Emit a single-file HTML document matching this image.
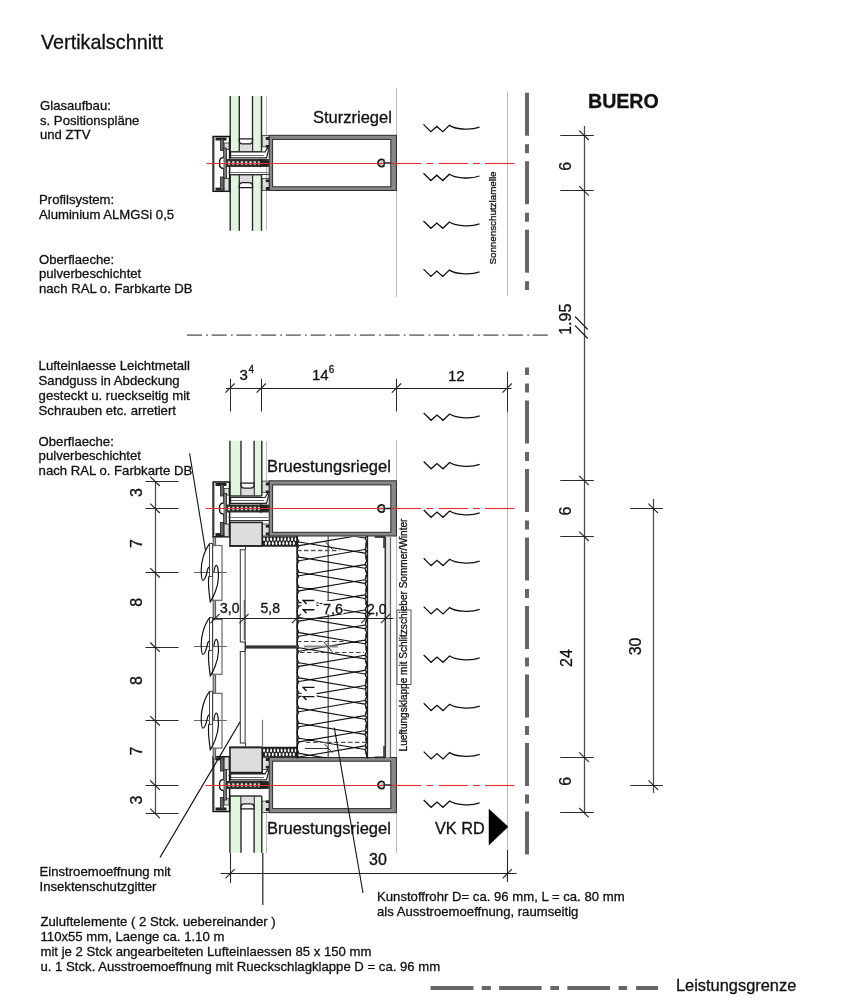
<!DOCTYPE html>
<html><head><meta charset="utf-8"><style>
html,body{margin:0;padding:0;background:#fff;}
svg{display:block;will-change:transform;font-family:"Liberation Sans",sans-serif;}
</style></head><body>
<svg width="852" height="1000" viewBox="0 0 852 1000">
<rect width="852" height="1000" fill="#fff"/>
<text x="41.00" y="49.20" font-size="19.8" text-anchor="start" font-weight="normal" fill="#111" stroke="#111" stroke-width="0.3">Vertikalschnitt</text>
<text x="40.00" y="109.80" font-size="13.15" text-anchor="start" font-weight="normal" fill="#111" stroke="#111" stroke-width="0.3">Glasaufbau:</text>
<text x="40.00" y="124.50" font-size="13.15" text-anchor="start" font-weight="normal" fill="#111" stroke="#111" stroke-width="0.3">s. Positionspläne</text>
<text x="40.00" y="139.20" font-size="13.15" text-anchor="start" font-weight="normal" fill="#111" stroke="#111" stroke-width="0.3">und ZTV</text>
<text x="39.00" y="204.40" font-size="13.15" text-anchor="start" font-weight="normal" fill="#111" stroke="#111" stroke-width="0.3">Profilsystem:</text>
<text x="39.00" y="218.50" font-size="13.15" text-anchor="start" font-weight="normal" fill="#111" stroke="#111" stroke-width="0.3">Aluminium ALMGSi 0,5</text>
<text x="39.00" y="263.80" font-size="13.15" text-anchor="start" font-weight="normal" fill="#111" stroke="#111" stroke-width="0.3">Oberflaeche:</text>
<text x="39.00" y="278.30" font-size="13.15" text-anchor="start" font-weight="normal" fill="#111" stroke="#111" stroke-width="0.3">pulverbeschichtet</text>
<text x="39.00" y="292.80" font-size="13.15" text-anchor="start" font-weight="normal" fill="#111" stroke="#111" stroke-width="0.3">nach RAL o. Farbkarte DB</text>
<text x="38.60" y="370.00" font-size="13.15" text-anchor="start" font-weight="normal" fill="#111" stroke="#111" stroke-width="0.3">Lufteinlaesse Leichtmetall</text>
<text x="38.60" y="384.87" font-size="13.15" text-anchor="start" font-weight="normal" fill="#111" stroke="#111" stroke-width="0.3">Sandguss in Abdeckung</text>
<text x="38.60" y="399.74" font-size="13.15" text-anchor="start" font-weight="normal" fill="#111" stroke="#111" stroke-width="0.3">gesteckt u. rueckseitig mit</text>
<text x="38.60" y="414.61" font-size="13.15" text-anchor="start" font-weight="normal" fill="#111" stroke="#111" stroke-width="0.3">Schrauben etc. arretiert</text>
<text x="38.60" y="445.50" font-size="13.15" text-anchor="start" font-weight="normal" fill="#111" stroke="#111" stroke-width="0.3">Oberflaeche:</text>
<text x="38.60" y="460.10" font-size="13.15" text-anchor="start" font-weight="normal" fill="#111" stroke="#111" stroke-width="0.3">pulverbeschichtet</text>
<text x="38.60" y="474.70" font-size="13.15" text-anchor="start" font-weight="normal" fill="#111" stroke="#111" stroke-width="0.3">nach RAL o. Farbkarte DB</text>
<text x="39.50" y="876.20" font-size="13.15" text-anchor="start" font-weight="normal" fill="#111" stroke="#111" stroke-width="0.3">Einstroemoeffnung mit</text>
<text x="39.50" y="891.10" font-size="13.15" text-anchor="start" font-weight="normal" fill="#111" stroke="#111" stroke-width="0.3">Insektenschutzgitter</text>
<text x="40.50" y="925.80" font-size="13.15" text-anchor="start" font-weight="normal" fill="#111" stroke="#111" stroke-width="0.3">Zuluftelemente ( 2 Stck. uebereinander )</text>
<text x="40.50" y="940.70" font-size="13.15" text-anchor="start" font-weight="normal" fill="#111" stroke="#111" stroke-width="0.3">110x55 mm, Laenge ca. 1.10 m</text>
<text x="40.50" y="955.60" font-size="13.15" text-anchor="start" font-weight="normal" fill="#111" stroke="#111" stroke-width="0.3">mit je 2 Stck angearbeiteten Lufteinlaessen 85 x 150 mm</text>
<text x="40.50" y="970.50" font-size="13.15" text-anchor="start" font-weight="normal" fill="#111" stroke="#111" stroke-width="0.3">u. 1 Stck. Ausstroemoeffnung mit Rueckschlagklappe D = ca. 96 mm</text>
<text x="377.00" y="901.40" font-size="13.15" text-anchor="start" font-weight="normal" fill="#111" stroke="#111" stroke-width="0.3">Kunstoffrohr D= ca. 96 mm, L = ca. 80 mm</text>
<text x="377.00" y="916.10" font-size="13.15" text-anchor="start" font-weight="normal" fill="#111" stroke="#111" stroke-width="0.3">als Ausstroemoeffnung, raumseitig</text>
<text x="588.00" y="107.80" font-size="19.6" text-anchor="start" font-weight="bold" fill="#111" stroke="#111" stroke-width="0.3">BUERO</text>
<text x="313.00" y="122.90" font-size="16.5" text-anchor="start" font-weight="normal" fill="#111" stroke="#111" stroke-width="0.3">Sturzriegel</text>
<text x="267.00" y="471.50" font-size="16.5" text-anchor="start" font-weight="normal" fill="#111" stroke="#111" stroke-width="0.3">Bruestungsriegel</text>
<text x="267.00" y="833.60" font-size="16.5" text-anchor="start" font-weight="normal" fill="#111" stroke="#111" stroke-width="0.3">Bruestungsriegel</text>
<text x="435.00" y="833.80" font-size="16.3" text-anchor="start" font-weight="normal" fill="#111" stroke="#111" stroke-width="0.3">VK RD</text>
<text x="676.00" y="990.70" font-size="16.4" text-anchor="start" font-weight="normal" fill="#111" stroke="#111" stroke-width="0.3">Leistungsgrenze</text>
<rect x="430.60" y="986.00" width="42.90" height="4.00" fill="#666" stroke="none" stroke-width="1" />
<rect x="481.70" y="986.00" width="9.20" height="4.00" fill="#666" stroke="none" stroke-width="1" />
<rect x="499.10" y="986.00" width="42.50" height="4.00" fill="#666" stroke="none" stroke-width="1" />
<rect x="550.30" y="986.00" width="8.70" height="4.00" fill="#666" stroke="none" stroke-width="1" />
<rect x="567.40" y="986.00" width="42.70" height="4.00" fill="#666" stroke="none" stroke-width="1" />
<rect x="618.60" y="986.00" width="8.50" height="4.00" fill="#666" stroke="none" stroke-width="1" />
<rect x="636.10" y="986.00" width="22.00" height="4.00" fill="#666" stroke="none" stroke-width="1" />
<line x1="266.50" y1="96.00" x2="266.50" y2="230.00" stroke="#bbb" stroke-width="1" />
<line x1="396.50" y1="88.00" x2="396.50" y2="297.00" stroke="#bbb" stroke-width="1" />
<line x1="507.50" y1="91.50" x2="507.50" y2="296.00" stroke="#bbb" stroke-width="1" />
<line x1="266.50" y1="441.00" x2="266.50" y2="481.00" stroke="#bbb" stroke-width="1" />
<line x1="266.50" y1="813.00" x2="266.50" y2="853.00" stroke="#bbb" stroke-width="1" />
<line x1="396.50" y1="440.00" x2="396.50" y2="853.00" stroke="#bbb" stroke-width="1" />
<line x1="507.50" y1="372.00" x2="507.50" y2="850.00" stroke="#bbb" stroke-width="1" />
<rect x="525.00" y="92.70" width="4.00" height="43.00" fill="#666" stroke="none" stroke-width="1" />
<rect x="525.00" y="144.20" width="4.00" height="9.00" fill="#666" stroke="none" stroke-width="1" />
<rect x="525.00" y="161.20" width="4.00" height="43.00" fill="#666" stroke="none" stroke-width="1" />
<rect x="525.00" y="212.70" width="4.00" height="9.00" fill="#666" stroke="none" stroke-width="1" />
<rect x="525.00" y="229.70" width="4.00" height="43.00" fill="#666" stroke="none" stroke-width="1" />
<rect x="525.00" y="281.20" width="4.00" height="8.80" fill="#666" stroke="none" stroke-width="1" />
<rect x="525.00" y="367.50" width="4.00" height="7.50" fill="#666" stroke="none" stroke-width="1" />
<rect x="525.00" y="383.50" width="4.00" height="9.00" fill="#666" stroke="none" stroke-width="1" />
<rect x="525.00" y="400.50" width="4.00" height="43.00" fill="#666" stroke="none" stroke-width="1" />
<rect x="525.00" y="452.00" width="4.00" height="9.00" fill="#666" stroke="none" stroke-width="1" />
<rect x="525.00" y="469.00" width="4.00" height="43.00" fill="#666" stroke="none" stroke-width="1" />
<rect x="525.00" y="520.50" width="4.00" height="9.00" fill="#666" stroke="none" stroke-width="1" />
<rect x="525.00" y="537.50" width="4.00" height="43.00" fill="#666" stroke="none" stroke-width="1" />
<rect x="525.00" y="589.00" width="4.00" height="9.00" fill="#666" stroke="none" stroke-width="1" />
<rect x="525.00" y="606.00" width="4.00" height="43.00" fill="#666" stroke="none" stroke-width="1" />
<rect x="525.00" y="657.50" width="4.00" height="9.00" fill="#666" stroke="none" stroke-width="1" />
<rect x="525.00" y="674.50" width="4.00" height="43.00" fill="#666" stroke="none" stroke-width="1" />
<rect x="525.00" y="726.00" width="4.00" height="9.00" fill="#666" stroke="none" stroke-width="1" />
<rect x="525.00" y="743.00" width="4.00" height="43.00" fill="#666" stroke="none" stroke-width="1" />
<rect x="525.00" y="794.50" width="4.00" height="9.00" fill="#666" stroke="none" stroke-width="1" />
<rect x="525.00" y="811.50" width="4.00" height="43.00" fill="#666" stroke="none" stroke-width="1" />
<rect x="230.20" y="96.00" width="9.10" height="55.80" fill="#e0f6dc" stroke="none" stroke-width="1" />
<rect x="252.50" y="96.00" width="9.00" height="55.80" fill="#e0f6dc" stroke="none" stroke-width="1" />
<line x1="230.20" y1="96.00" x2="230.20" y2="151.80" stroke="#2a2a2a" stroke-width="1.4" />
<line x1="239.30" y1="96.00" x2="239.30" y2="151.80" stroke="#2a2a2a" stroke-width="1.4" />
<line x1="252.50" y1="96.00" x2="252.50" y2="151.80" stroke="#2a2a2a" stroke-width="1.4" />
<line x1="261.50" y1="96.00" x2="261.50" y2="151.80" stroke="#2a2a2a" stroke-width="1.4" />
<rect x="239.90" y="144.40" width="12.00" height="7.40" fill="#ddd" stroke="none" stroke-width="1" />
<path d="M239.3,138.9 L252.5,138.9 L252.5,140.4 Q252.5,143.9 249.0,143.9 L242.8,143.9 Q239.3,143.9 239.3,140.4 Z" stroke="#1a1a1a" stroke-width="1.3" fill="#fff" />
<line x1="230.20" y1="151.80" x2="261.50" y2="151.80" stroke="#333" stroke-width="1.3" />
<rect x="230.20" y="174.80" width="9.10" height="56.00" fill="#e0f6dc" stroke="none" stroke-width="1" />
<rect x="252.50" y="174.80" width="9.00" height="56.00" fill="#e0f6dc" stroke="none" stroke-width="1" />
<line x1="230.20" y1="174.80" x2="230.20" y2="230.80" stroke="#2a2a2a" stroke-width="1.4" />
<line x1="239.30" y1="174.80" x2="239.30" y2="230.80" stroke="#2a2a2a" stroke-width="1.4" />
<line x1="252.50" y1="174.80" x2="252.50" y2="230.80" stroke="#2a2a2a" stroke-width="1.4" />
<line x1="261.50" y1="174.80" x2="261.50" y2="230.80" stroke="#2a2a2a" stroke-width="1.4" />
<rect x="239.90" y="174.80" width="12.00" height="7.40" fill="#ddd" stroke="none" stroke-width="1" />
<path d="M239.3,187.70000000000002 L252.5,187.70000000000002 L252.5,186.20000000000002 Q252.5,182.70000000000002 249.0,182.70000000000002 L242.8,182.70000000000002 Q239.3,182.70000000000002 239.3,186.20000000000002 Z" stroke="#1a1a1a" stroke-width="1.3" fill="#fff" />
<line x1="230.20" y1="174.80" x2="261.50" y2="174.80" stroke="#333" stroke-width="1.3" />
<rect x="269.20" y="135.30" width="127.20" height="55.20" fill="#888" stroke="#2a2a2a" stroke-width="1" />
<rect x="272.60" y="139.40" width="118.20" height="47.40" fill="#fff" stroke="#2a2a2a" stroke-width="1" />
<circle cx="381.6" cy="163" r="2.2" fill="#ccc"/>
<path d="M384.36,160.69 A3.6,3.6 0 1 0 384.36,165.31" stroke="#1a1a1a" stroke-width="1.9" fill="none" />
<path d="M384.36,160.69 L384,163 L384.36,165.31 M384,163 L391,163" stroke="#222" stroke-width="1.5" fill="none" />
<rect x="262.20" y="135.60" width="6.80" height="11.20" fill="#ddd" stroke="#333" stroke-width="0.8" />
<rect x="262.20" y="178.50" width="6.80" height="12.00" fill="#ddd" stroke="#333" stroke-width="0.8" />
<rect x="265.80" y="137.00" width="3.20" height="3.00" fill="#222" stroke="none" stroke-width="1" />
<rect x="265.80" y="145.00" width="3.20" height="2.60" fill="#222" stroke="none" stroke-width="1" />
<rect x="265.80" y="179.50" width="3.20" height="2.60" fill="#222" stroke="none" stroke-width="1" />
<rect x="265.80" y="187.00" width="3.20" height="3.00" fill="#222" stroke="none" stroke-width="1" />
<rect x="213.10" y="136.50" width="16.50" height="54.80" fill="#fff" stroke="#111" stroke-width="1.5" />
<line x1="214.50" y1="138.00" x2="214.50" y2="190.00" stroke="#999" stroke-width="0.8" />
<rect x="215.50" y="137.50" width="11.00" height="3.00" fill="#222" stroke="none" stroke-width="1" />
<rect x="220.40" y="139.00" width="3.00" height="11.50" fill="#666" stroke="#222" stroke-width="0.8" />
<rect x="215.50" y="187.60" width="11.00" height="3.00" fill="#222" stroke="none" stroke-width="1" />
<rect x="220.40" y="177.00" width="3.00" height="13.00" fill="#666" stroke="#222" stroke-width="0.8" />
<rect x="224.20" y="143.00" width="4.80" height="6.60" fill="#ddd" stroke="#333" stroke-width="0.8" />
<rect x="224.20" y="178.50" width="4.80" height="12.40" fill="#ddd" stroke="#333" stroke-width="0.8" />
<rect x="223.60" y="148.00" width="3.00" height="30.20" fill="#777" stroke="#222" stroke-width="0.8" />
<path d="M223.6,157.5 Q219,157.5 219.6,163 Q219,168.5 223.6,168.5" stroke="#111" stroke-width="1.4" fill="#fff" />
<line x1="228.00" y1="172.50" x2="268.00" y2="172.50" stroke="#555" stroke-width="0.8" />
<line x1="230.00" y1="174.50" x2="269.00" y2="174.50" stroke="#333" stroke-width="1.2" />
<rect x="226.60" y="159.20" width="42.00" height="7.60" fill="#2e2e2e" stroke="none" stroke-width="1" />
<ellipse cx="229.00" cy="163.00" rx="1.3" ry="2.1" fill="#d8d8d8"/>
<ellipse cx="233.30" cy="163.00" rx="1.3" ry="2.1" fill="#d8d8d8"/>
<ellipse cx="237.60" cy="163.00" rx="1.3" ry="2.1" fill="#d8d8d8"/>
<ellipse cx="241.90" cy="163.00" rx="1.3" ry="2.1" fill="#d8d8d8"/>
<ellipse cx="246.20" cy="163.00" rx="1.3" ry="2.1" fill="#d8d8d8"/>
<ellipse cx="250.50" cy="163.00" rx="1.3" ry="2.1" fill="#d8d8d8"/>
<ellipse cx="254.80" cy="163.00" rx="1.3" ry="2.1" fill="#d8d8d8"/>
<ellipse cx="259.10" cy="163.00" rx="1.3" ry="2.1" fill="#d8d8d8"/>
<ellipse cx="263.40" cy="163.00" rx="1.3" ry="2.1" fill="#d8d8d8"/>
<path d="M260,159.2 L268.6,161.5 L268.6,164.5 L260,166.8 Z" stroke="#222" stroke-width="0.5" fill="#222" />
<path d="M230.6,152 L265,152 L267.8,147.5 L268.6,150 L266.5,157.8 L230.6,157.8 Z" stroke="#222" stroke-width="1.2" fill="#fff" />
<line x1="231.00" y1="155.50" x2="264.00" y2="155.50" stroke="#444" stroke-width="0.8" />
<rect x="226.60" y="159.20" width="42.00" height="7.60" fill="#2e2e2e" stroke="none" stroke-width="1" />
<ellipse cx="229.00" cy="163.00" rx="1.3" ry="2.1" fill="#d8d8d8"/>
<ellipse cx="233.30" cy="163.00" rx="1.3" ry="2.1" fill="#d8d8d8"/>
<ellipse cx="237.60" cy="163.00" rx="1.3" ry="2.1" fill="#d8d8d8"/>
<ellipse cx="241.90" cy="163.00" rx="1.3" ry="2.1" fill="#d8d8d8"/>
<ellipse cx="246.20" cy="163.00" rx="1.3" ry="2.1" fill="#d8d8d8"/>
<ellipse cx="250.50" cy="163.00" rx="1.3" ry="2.1" fill="#d8d8d8"/>
<ellipse cx="254.80" cy="163.00" rx="1.3" ry="2.1" fill="#d8d8d8"/>
<ellipse cx="259.10" cy="163.00" rx="1.3" ry="2.1" fill="#d8d8d8"/>
<ellipse cx="263.40" cy="163.00" rx="1.3" ry="2.1" fill="#d8d8d8"/>
<path d="M260,159.2 L268.6,161.5 L268.6,164.5 L260,166.8 Z" stroke="#222" stroke-width="0.5" fill="#222" />
<line x1="206.50" y1="163.50" x2="383.60" y2="163.50" stroke="#e03030" stroke-width="1.15" />
<line x1="391.50" y1="163.50" x2="421.20" y2="163.50" stroke="#e03030" stroke-width="1.15" />
<line x1="426.50" y1="163.50" x2="433.00" y2="163.50" stroke="#e03030" stroke-width="1.15" />
<line x1="438.80" y1="163.50" x2="468.00" y2="163.50" stroke="#e03030" stroke-width="1.15" />
<line x1="473.00" y1="163.50" x2="480.00" y2="163.50" stroke="#e03030" stroke-width="1.15" />
<line x1="485.00" y1="163.50" x2="514.40" y2="163.50" stroke="#e03030" stroke-width="1.15" />
<path d="M423.5,124.4 L430.9,131.70000000000002 L436.8,126.4 L442.8,131.70000000000002 L449.4,125.4 C454.5,128.9 469.5,130.9 479.5,127.2" stroke="#111" stroke-width="1.3" fill="none" />
<path d="M423.5,173.2 L430.9,180.5 L436.8,175.2 L442.8,180.5 L449.4,174.2 C454.5,177.7 469.5,179.7 479.5,176.0" stroke="#111" stroke-width="1.3" fill="none" />
<path d="M423.5,221 L430.9,228.3 L436.8,223 L442.8,228.3 L449.4,222 C454.5,225.5 469.5,227.5 479.5,223.8" stroke="#111" stroke-width="1.3" fill="none" />
<path d="M423.5,269.1 L430.9,276.40000000000003 L436.8,271.1 L442.8,276.40000000000003 L449.4,270.1 C454.5,273.6 469.5,275.6 479.5,271.90000000000003" stroke="#111" stroke-width="1.3" fill="none" />
<path d="M423.7,413 L431.09999999999997,420.3 L437.0,415 L443.0,420.3 L449.59999999999997,414 C454.7,417.5 469.7,419.5 479.7,415.8" stroke="#111" stroke-width="1.3" fill="none" />
<path d="M423.7,461.5 L431.09999999999997,468.8 L437.0,463.5 L443.0,468.8 L449.59999999999997,462.5 C454.7,466.0 469.7,468.0 479.7,464.3" stroke="#111" stroke-width="1.3" fill="none" />
<path d="M423.7,510 L431.09999999999997,517.3 L437.0,512 L443.0,517.3 L449.59999999999997,511 C454.7,514.5 469.7,516.5 479.7,512.8" stroke="#111" stroke-width="1.3" fill="none" />
<path d="M423.7,558.3 L431.09999999999997,565.5999999999999 L437.0,560.3 L443.0,565.5999999999999 L449.59999999999997,559.3 C454.7,562.8 469.7,564.8 479.7,561.0999999999999" stroke="#111" stroke-width="1.3" fill="none" />
<path d="M423.7,606.6 L431.09999999999997,613.9 L437.0,608.6 L443.0,613.9 L449.59999999999997,607.6 C454.7,611.1 469.7,613.1 479.7,609.4" stroke="#111" stroke-width="1.3" fill="none" />
<path d="M423.7,655 L431.09999999999997,662.3 L437.0,657 L443.0,662.3 L449.59999999999997,656 C454.7,659.5 469.7,661.5 479.7,657.8" stroke="#111" stroke-width="1.3" fill="none" />
<path d="M423.7,703.3 L431.09999999999997,710.5999999999999 L437.0,705.3 L443.0,710.5999999999999 L449.59999999999997,704.3 C454.7,707.8 469.7,709.8 479.7,706.0999999999999" stroke="#111" stroke-width="1.3" fill="none" />
<path d="M423.7,751.6 L431.09999999999997,758.9 L437.0,753.6 L443.0,758.9 L449.59999999999997,752.6 C454.7,756.1 469.7,758.1 479.7,754.4" stroke="#111" stroke-width="1.3" fill="none" />
<path d="M423.7,800 L431.09999999999997,807.3 L437.0,802 L443.0,807.3 L449.59999999999997,801 C454.7,804.5 469.7,806.5 479.7,802.8" stroke="#111" stroke-width="1.3" fill="none" />
<text x="496.40" y="218.00" font-size="9.8" text-anchor="middle" font-weight="normal" fill="#111" stroke="#111" stroke-width="0.3" transform="rotate(-90 496.40 218.00)">Sonnenschutzlamelle</text>
<line x1="187.00" y1="335.10" x2="202.00" y2="335.10" stroke="#555" stroke-width="1.3" />
<line x1="206.20" y1="335.10" x2="208.00" y2="335.10" stroke="#555" stroke-width="1.3" />
<line x1="211.70" y1="335.10" x2="226.70" y2="335.10" stroke="#555" stroke-width="1.3" />
<line x1="230.90" y1="335.10" x2="232.70" y2="335.10" stroke="#555" stroke-width="1.3" />
<line x1="236.40" y1="335.10" x2="251.40" y2="335.10" stroke="#555" stroke-width="1.3" />
<line x1="255.60" y1="335.10" x2="257.40" y2="335.10" stroke="#555" stroke-width="1.3" />
<line x1="261.10" y1="335.10" x2="276.10" y2="335.10" stroke="#555" stroke-width="1.3" />
<line x1="280.30" y1="335.10" x2="282.10" y2="335.10" stroke="#555" stroke-width="1.3" />
<line x1="285.80" y1="335.10" x2="300.80" y2="335.10" stroke="#555" stroke-width="1.3" />
<line x1="305.00" y1="335.10" x2="306.80" y2="335.10" stroke="#555" stroke-width="1.3" />
<line x1="310.50" y1="335.10" x2="325.50" y2="335.10" stroke="#555" stroke-width="1.3" />
<line x1="329.70" y1="335.10" x2="331.50" y2="335.10" stroke="#555" stroke-width="1.3" />
<line x1="335.20" y1="335.10" x2="350.20" y2="335.10" stroke="#555" stroke-width="1.3" />
<line x1="354.40" y1="335.10" x2="356.20" y2="335.10" stroke="#555" stroke-width="1.3" />
<line x1="359.90" y1="335.10" x2="374.90" y2="335.10" stroke="#555" stroke-width="1.3" />
<line x1="379.10" y1="335.10" x2="380.90" y2="335.10" stroke="#555" stroke-width="1.3" />
<line x1="384.60" y1="335.10" x2="399.60" y2="335.10" stroke="#555" stroke-width="1.3" />
<line x1="403.80" y1="335.10" x2="405.60" y2="335.10" stroke="#555" stroke-width="1.3" />
<line x1="409.30" y1="335.10" x2="424.30" y2="335.10" stroke="#555" stroke-width="1.3" />
<line x1="428.50" y1="335.10" x2="430.30" y2="335.10" stroke="#555" stroke-width="1.3" />
<line x1="434.00" y1="335.10" x2="449.00" y2="335.10" stroke="#555" stroke-width="1.3" />
<line x1="453.20" y1="335.10" x2="455.00" y2="335.10" stroke="#555" stroke-width="1.3" />
<line x1="458.70" y1="335.10" x2="473.70" y2="335.10" stroke="#555" stroke-width="1.3" />
<line x1="477.90" y1="335.10" x2="479.70" y2="335.10" stroke="#555" stroke-width="1.3" />
<line x1="483.40" y1="335.10" x2="498.40" y2="335.10" stroke="#555" stroke-width="1.3" />
<line x1="502.60" y1="335.10" x2="504.40" y2="335.10" stroke="#555" stroke-width="1.3" />
<line x1="508.10" y1="335.10" x2="523.10" y2="335.10" stroke="#555" stroke-width="1.3" />
<line x1="527.30" y1="335.10" x2="529.10" y2="335.10" stroke="#555" stroke-width="1.3" />
<line x1="532.80" y1="335.10" x2="547.80" y2="335.10" stroke="#555" stroke-width="1.3" />
<line x1="584.50" y1="126.00" x2="584.50" y2="812.60" stroke="#4a4a4a" stroke-width="1.25" />
<line x1="560.30" y1="135.50" x2="593.80" y2="135.50" stroke="#2a2a2a" stroke-width="1.05" />
<line x1="579.20" y1="130.60" x2="588.80" y2="140.00" stroke="#222" stroke-width="1.1" />
<line x1="560.30" y1="190.50" x2="593.80" y2="190.50" stroke="#2a2a2a" stroke-width="1.05" />
<line x1="579.20" y1="186.20" x2="588.80" y2="195.60" stroke="#222" stroke-width="1.1" />
<line x1="560.30" y1="480.50" x2="593.80" y2="480.50" stroke="#2a2a2a" stroke-width="1.05" />
<line x1="579.20" y1="475.80" x2="588.80" y2="485.20" stroke="#222" stroke-width="1.1" />
<line x1="560.30" y1="536.50" x2="593.80" y2="536.50" stroke="#2a2a2a" stroke-width="1.05" />
<line x1="579.20" y1="531.60" x2="588.80" y2="541.00" stroke="#222" stroke-width="1.1" />
<line x1="560.30" y1="757.50" x2="593.80" y2="757.50" stroke="#2a2a2a" stroke-width="1.05" />
<line x1="579.20" y1="752.40" x2="588.80" y2="761.80" stroke="#222" stroke-width="1.1" />
<line x1="560.30" y1="812.50" x2="593.80" y2="812.50" stroke="#2a2a2a" stroke-width="1.05" />
<line x1="579.20" y1="808.00" x2="588.80" y2="817.40" stroke="#222" stroke-width="1.1" />
<line x1="575.00" y1="316.50" x2="587.80" y2="329.50" stroke="#222" stroke-width="1.2" />
<line x1="575.00" y1="325.50" x2="587.80" y2="338.50" stroke="#222" stroke-width="1.2" />
<line x1="653.50" y1="498.80" x2="653.50" y2="793.00" stroke="#4a4a4a" stroke-width="1.25" />
<line x1="630.20" y1="508.50" x2="662.80" y2="508.50" stroke="#2a2a2a" stroke-width="1.05" />
<line x1="648.50" y1="503.70" x2="658.10" y2="513.10" stroke="#222" stroke-width="1.1" />
<line x1="630.20" y1="785.50" x2="662.80" y2="785.50" stroke="#2a2a2a" stroke-width="1.05" />
<line x1="648.50" y1="780.40" x2="658.10" y2="789.80" stroke="#222" stroke-width="1.1" />
<text x="570.80" y="166.40" font-size="16" text-anchor="middle" font-weight="normal" fill="#111" stroke="#111" stroke-width="0.3" transform="rotate(-90 570.80 166.40)">6</text>
<text x="571.00" y="319.20" font-size="16" text-anchor="middle" font-weight="normal" fill="#111" stroke="#111" stroke-width="0.3" transform="rotate(-90 571.00 319.20)">1.95</text>
<text x="570.80" y="511.00" font-size="16" text-anchor="middle" font-weight="normal" fill="#111" stroke="#111" stroke-width="0.3" transform="rotate(-90 570.80 511.00)">6</text>
<text x="571.60" y="658.00" font-size="16" text-anchor="middle" font-weight="normal" fill="#111" stroke="#111" stroke-width="0.3" transform="rotate(-90 571.60 658.00)">24</text>
<text x="570.80" y="781.30" font-size="16" text-anchor="middle" font-weight="normal" fill="#111" stroke="#111" stroke-width="0.3" transform="rotate(-90 570.80 781.30)">6</text>
<text x="641.20" y="646.40" font-size="16" text-anchor="middle" font-weight="normal" fill="#111" stroke="#111" stroke-width="0.3" transform="rotate(-90 641.20 646.40)">30</text>
<line x1="226.00" y1="388.50" x2="511.50" y2="388.50" stroke="#222" stroke-width="1.1" />
<line x1="230.50" y1="378.60" x2="230.50" y2="411.50" stroke="#2a2a2a" stroke-width="1.05" />
<line x1="261.50" y1="378.60" x2="261.50" y2="411.50" stroke="#2a2a2a" stroke-width="1.05" />
<line x1="396.50" y1="378.60" x2="396.50" y2="411.50" stroke="#2a2a2a" stroke-width="1.05" />
<line x1="507.50" y1="371.70" x2="507.50" y2="411.70" stroke="#2a2a2a" stroke-width="1.05" />
<line x1="225.40" y1="392.70" x2="234.60" y2="383.50" stroke="#222" stroke-width="1.1" />
<line x1="256.60" y1="392.70" x2="265.80" y2="383.50" stroke="#222" stroke-width="1.1" />
<line x1="391.90" y1="392.70" x2="401.10" y2="383.50" stroke="#222" stroke-width="1.1" />
<line x1="502.50" y1="392.70" x2="511.70" y2="383.50" stroke="#222" stroke-width="1.1" />
<text x="239.50" y="380.20" font-size="15" text-anchor="start" font-weight="normal" fill="#111" stroke="#111" stroke-width="0.3">3</text>
<text x="248.60" y="372.60" font-size="10" text-anchor="start" font-weight="normal" fill="#111" stroke="#111" stroke-width="0.3">4</text>
<text x="312.00" y="380.20" font-size="15" text-anchor="start" font-weight="normal" fill="#111" stroke="#111" stroke-width="0.3">14</text>
<text x="328.80" y="372.60" font-size="10" text-anchor="start" font-weight="normal" fill="#111" stroke="#111" stroke-width="0.3">6</text>
<text x="448.00" y="380.50" font-size="15" text-anchor="start" font-weight="normal" fill="#111" stroke="#111" stroke-width="0.3">12</text>
<rect x="229.90" y="440.80" width="11.10" height="55.20" fill="#e0f6dc" stroke="none" stroke-width="1" />
<rect x="254.10" y="440.80" width="7.70" height="55.20" fill="#e0f6dc" stroke="none" stroke-width="1" />
<line x1="229.90" y1="440.80" x2="229.90" y2="496.00" stroke="#2a2a2a" stroke-width="1.4" />
<line x1="241.00" y1="440.80" x2="241.00" y2="496.00" stroke="#2a2a2a" stroke-width="1.4" />
<line x1="254.10" y1="440.80" x2="254.10" y2="496.00" stroke="#2a2a2a" stroke-width="1.4" />
<line x1="261.80" y1="440.80" x2="261.80" y2="496.00" stroke="#2a2a2a" stroke-width="1.4" />
<rect x="241.60" y="488.60" width="11.90" height="7.40" fill="#ddd" stroke="none" stroke-width="1" />
<path d="M241.0,483.1 L254.1,483.1 L254.1,484.6 Q254.1,488.1 250.6,488.1 L244.5,488.1 Q241.0,488.1 241.0,484.6 Z" stroke="#1a1a1a" stroke-width="1.3" fill="#fff" />
<line x1="229.90" y1="496.00" x2="261.80" y2="496.00" stroke="#333" stroke-width="1.3" />
<rect x="229.90" y="796.00" width="11.10" height="56.70" fill="#e0f6dc" stroke="none" stroke-width="1" />
<rect x="254.10" y="796.00" width="7.70" height="56.70" fill="#e0f6dc" stroke="none" stroke-width="1" />
<line x1="229.90" y1="796.00" x2="229.90" y2="852.70" stroke="#2a2a2a" stroke-width="1.4" />
<line x1="241.00" y1="796.00" x2="241.00" y2="852.70" stroke="#2a2a2a" stroke-width="1.4" />
<line x1="254.10" y1="796.00" x2="254.10" y2="852.70" stroke="#2a2a2a" stroke-width="1.4" />
<line x1="261.80" y1="796.00" x2="261.80" y2="852.70" stroke="#2a2a2a" stroke-width="1.4" />
<rect x="241.60" y="796.00" width="11.90" height="7.40" fill="#ddd" stroke="none" stroke-width="1" />
<path d="M241.0,808.9 L254.1,808.9 L254.1,807.4 Q254.1,803.9 250.6,803.9 L244.5,803.9 Q241.0,803.9 241.0,807.4 Z" stroke="#1a1a1a" stroke-width="1.3" fill="#fff" />
<line x1="229.90" y1="796.00" x2="261.80" y2="796.00" stroke="#333" stroke-width="1.3" />
<rect x="269.20" y="480.80" width="127.20" height="55.20" fill="#888" stroke="#2a2a2a" stroke-width="1" />
<rect x="272.60" y="484.90" width="118.20" height="47.40" fill="#fff" stroke="#2a2a2a" stroke-width="1" />
<circle cx="381.6" cy="508.5" r="2.2" fill="#ccc"/>
<path d="M384.36,506.19 A3.6,3.6 0 1 0 384.36,510.81" stroke="#1a1a1a" stroke-width="1.9" fill="none" />
<path d="M384.36,506.19 L384,508.5 L384.36,510.81 M384,508.5 L391,508.5" stroke="#222" stroke-width="1.5" fill="none" />
<rect x="262.20" y="481.10" width="6.80" height="11.20" fill="#ddd" stroke="#333" stroke-width="0.8" />
<rect x="262.20" y="524.00" width="6.80" height="12.00" fill="#ddd" stroke="#333" stroke-width="0.8" />
<rect x="265.80" y="482.50" width="3.20" height="3.00" fill="#222" stroke="none" stroke-width="1" />
<rect x="265.80" y="490.50" width="3.20" height="2.60" fill="#222" stroke="none" stroke-width="1" />
<rect x="265.80" y="525.00" width="3.20" height="2.60" fill="#222" stroke="none" stroke-width="1" />
<rect x="265.80" y="532.50" width="3.20" height="3.00" fill="#222" stroke="none" stroke-width="1" />
<rect x="213.10" y="482.00" width="16.50" height="54.80" fill="#fff" stroke="#111" stroke-width="1.5" />
<line x1="214.50" y1="483.50" x2="214.50" y2="535.50" stroke="#999" stroke-width="0.8" />
<rect x="215.50" y="483.00" width="11.00" height="3.00" fill="#222" stroke="none" stroke-width="1" />
<rect x="220.40" y="484.50" width="3.00" height="11.50" fill="#666" stroke="#222" stroke-width="0.8" />
<rect x="215.50" y="533.10" width="11.00" height="3.00" fill="#222" stroke="none" stroke-width="1" />
<rect x="220.40" y="522.50" width="3.00" height="13.00" fill="#666" stroke="#222" stroke-width="0.8" />
<rect x="224.20" y="488.50" width="4.80" height="6.60" fill="#ddd" stroke="#333" stroke-width="0.8" />
<rect x="224.20" y="524.00" width="4.80" height="12.40" fill="#ddd" stroke="#333" stroke-width="0.8" />
<rect x="223.60" y="493.50" width="3.00" height="30.20" fill="#777" stroke="#222" stroke-width="0.8" />
<path d="M223.6,503.0 Q219,503.0 219.6,508.5 Q219,514.0 223.6,514.0" stroke="#111" stroke-width="1.4" fill="#fff" />
<line x1="228.00" y1="517.50" x2="268.00" y2="517.50" stroke="#555" stroke-width="0.8" />
<line x1="230.00" y1="520.50" x2="269.00" y2="520.50" stroke="#333" stroke-width="1.2" />
<rect x="226.60" y="504.70" width="42.00" height="7.60" fill="#2e2e2e" stroke="none" stroke-width="1" />
<ellipse cx="229.00" cy="508.50" rx="1.3" ry="2.1" fill="#d8d8d8"/>
<ellipse cx="233.30" cy="508.50" rx="1.3" ry="2.1" fill="#d8d8d8"/>
<ellipse cx="237.60" cy="508.50" rx="1.3" ry="2.1" fill="#d8d8d8"/>
<ellipse cx="241.90" cy="508.50" rx="1.3" ry="2.1" fill="#d8d8d8"/>
<ellipse cx="246.20" cy="508.50" rx="1.3" ry="2.1" fill="#d8d8d8"/>
<ellipse cx="250.50" cy="508.50" rx="1.3" ry="2.1" fill="#d8d8d8"/>
<ellipse cx="254.80" cy="508.50" rx="1.3" ry="2.1" fill="#d8d8d8"/>
<ellipse cx="259.10" cy="508.50" rx="1.3" ry="2.1" fill="#d8d8d8"/>
<ellipse cx="263.40" cy="508.50" rx="1.3" ry="2.1" fill="#d8d8d8"/>
<path d="M260,504.7 L268.6,507.0 L268.6,510.0 L260,512.3 Z" stroke="#222" stroke-width="0.5" fill="#222" />
<path d="M230.6,497.5 L265,497.5 L267.8,493.0 L268.6,495.5 L266.5,503.3 L230.6,503.3 Z" stroke="#222" stroke-width="1.2" fill="#fff" />
<line x1="231.00" y1="500.50" x2="264.00" y2="500.50" stroke="#444" stroke-width="0.8" />
<rect x="226.60" y="504.70" width="42.00" height="7.60" fill="#2e2e2e" stroke="none" stroke-width="1" />
<ellipse cx="229.00" cy="508.50" rx="1.3" ry="2.1" fill="#d8d8d8"/>
<ellipse cx="233.30" cy="508.50" rx="1.3" ry="2.1" fill="#d8d8d8"/>
<ellipse cx="237.60" cy="508.50" rx="1.3" ry="2.1" fill="#d8d8d8"/>
<ellipse cx="241.90" cy="508.50" rx="1.3" ry="2.1" fill="#d8d8d8"/>
<ellipse cx="246.20" cy="508.50" rx="1.3" ry="2.1" fill="#d8d8d8"/>
<ellipse cx="250.50" cy="508.50" rx="1.3" ry="2.1" fill="#d8d8d8"/>
<ellipse cx="254.80" cy="508.50" rx="1.3" ry="2.1" fill="#d8d8d8"/>
<ellipse cx="259.10" cy="508.50" rx="1.3" ry="2.1" fill="#d8d8d8"/>
<ellipse cx="263.40" cy="508.50" rx="1.3" ry="2.1" fill="#d8d8d8"/>
<path d="M260,504.7 L268.6,507.0 L268.6,510.0 L260,512.3 Z" stroke="#222" stroke-width="0.5" fill="#222" />
<g transform="translate(0 1570) scale(1 -1)">
<rect x="269.20" y="757.30" width="127.20" height="55.20" fill="#888" stroke="#2a2a2a" stroke-width="1" />
<rect x="272.60" y="761.40" width="118.20" height="47.40" fill="#fff" stroke="#2a2a2a" stroke-width="1" />
<circle cx="381.6" cy="785" r="2.2" fill="#ccc"/>
<path d="M384.36,782.69 A3.6,3.6 0 1 0 384.36,787.31" stroke="#1a1a1a" stroke-width="1.9" fill="none" />
<path d="M384.36,782.69 L384,785 L384.36,787.31 M384,785 L391,785" stroke="#222" stroke-width="1.5" fill="none" />
<rect x="262.20" y="757.60" width="6.80" height="11.20" fill="#ddd" stroke="#333" stroke-width="0.8" />
<rect x="262.20" y="800.50" width="6.80" height="12.00" fill="#ddd" stroke="#333" stroke-width="0.8" />
<rect x="265.80" y="759.00" width="3.20" height="3.00" fill="#222" stroke="none" stroke-width="1" />
<rect x="265.80" y="767.00" width="3.20" height="2.60" fill="#222" stroke="none" stroke-width="1" />
<rect x="265.80" y="801.50" width="3.20" height="2.60" fill="#222" stroke="none" stroke-width="1" />
<rect x="265.80" y="809.00" width="3.20" height="3.00" fill="#222" stroke="none" stroke-width="1" />
<rect x="213.10" y="758.50" width="16.50" height="54.80" fill="#fff" stroke="#111" stroke-width="1.5" />
<line x1="214.50" y1="760.00" x2="214.50" y2="812.00" stroke="#999" stroke-width="0.8" />
<rect x="215.50" y="759.50" width="11.00" height="3.00" fill="#222" stroke="none" stroke-width="1" />
<rect x="220.40" y="761.00" width="3.00" height="11.50" fill="#666" stroke="#222" stroke-width="0.8" />
<rect x="215.50" y="809.60" width="11.00" height="3.00" fill="#222" stroke="none" stroke-width="1" />
<rect x="220.40" y="799.00" width="3.00" height="13.00" fill="#666" stroke="#222" stroke-width="0.8" />
<rect x="224.20" y="765.00" width="4.80" height="6.60" fill="#ddd" stroke="#333" stroke-width="0.8" />
<rect x="224.20" y="800.50" width="4.80" height="12.40" fill="#ddd" stroke="#333" stroke-width="0.8" />
<rect x="223.60" y="770.00" width="3.00" height="30.20" fill="#777" stroke="#222" stroke-width="0.8" />
<path d="M223.6,779.5 Q219,779.5 219.6,785 Q219,790.5 223.6,790.5" stroke="#111" stroke-width="1.4" fill="#fff" />
<line x1="228.00" y1="794.50" x2="268.00" y2="794.50" stroke="#555" stroke-width="0.8" />
<line x1="230.00" y1="796.50" x2="269.00" y2="796.50" stroke="#333" stroke-width="1.2" />
<rect x="226.60" y="781.20" width="42.00" height="7.60" fill="#2e2e2e" stroke="none" stroke-width="1" />
<ellipse cx="229.00" cy="785.00" rx="1.3" ry="2.1" fill="#d8d8d8"/>
<ellipse cx="233.30" cy="785.00" rx="1.3" ry="2.1" fill="#d8d8d8"/>
<ellipse cx="237.60" cy="785.00" rx="1.3" ry="2.1" fill="#d8d8d8"/>
<ellipse cx="241.90" cy="785.00" rx="1.3" ry="2.1" fill="#d8d8d8"/>
<ellipse cx="246.20" cy="785.00" rx="1.3" ry="2.1" fill="#d8d8d8"/>
<ellipse cx="250.50" cy="785.00" rx="1.3" ry="2.1" fill="#d8d8d8"/>
<ellipse cx="254.80" cy="785.00" rx="1.3" ry="2.1" fill="#d8d8d8"/>
<ellipse cx="259.10" cy="785.00" rx="1.3" ry="2.1" fill="#d8d8d8"/>
<ellipse cx="263.40" cy="785.00" rx="1.3" ry="2.1" fill="#d8d8d8"/>
<path d="M260,781.2 L268.6,783.5 L268.6,786.5 L260,788.8 Z" stroke="#222" stroke-width="0.5" fill="#222" />
</g>
<path d="M230.6,774 L265,774 L267.8,769.5 L268.6,772 L266.5,779.8 L230.6,779.8 Z" stroke="#222" stroke-width="1.2" fill="#fff" />
<line x1="231.00" y1="777.50" x2="264.00" y2="777.50" stroke="#444" stroke-width="0.8" />
<rect x="226.60" y="781.20" width="42.00" height="7.60" fill="#2e2e2e" stroke="none" stroke-width="1" />
<ellipse cx="229.00" cy="785.00" rx="1.3" ry="2.1" fill="#d8d8d8"/>
<ellipse cx="233.30" cy="785.00" rx="1.3" ry="2.1" fill="#d8d8d8"/>
<ellipse cx="237.60" cy="785.00" rx="1.3" ry="2.1" fill="#d8d8d8"/>
<ellipse cx="241.90" cy="785.00" rx="1.3" ry="2.1" fill="#d8d8d8"/>
<ellipse cx="246.20" cy="785.00" rx="1.3" ry="2.1" fill="#d8d8d8"/>
<ellipse cx="250.50" cy="785.00" rx="1.3" ry="2.1" fill="#d8d8d8"/>
<ellipse cx="254.80" cy="785.00" rx="1.3" ry="2.1" fill="#d8d8d8"/>
<ellipse cx="259.10" cy="785.00" rx="1.3" ry="2.1" fill="#d8d8d8"/>
<ellipse cx="263.40" cy="785.00" rx="1.3" ry="2.1" fill="#d8d8d8"/>
<path d="M260,781.2 L268.6,783.5 L268.6,786.5 L260,788.8 Z" stroke="#222" stroke-width="0.5" fill="#222" />
<line x1="205.50" y1="508.50" x2="383.60" y2="508.50" stroke="#e03030" stroke-width="1.15" />
<line x1="391.50" y1="508.50" x2="421.20" y2="508.50" stroke="#e03030" stroke-width="1.15" />
<line x1="426.50" y1="508.50" x2="433.00" y2="508.50" stroke="#e03030" stroke-width="1.15" />
<line x1="438.80" y1="508.50" x2="468.00" y2="508.50" stroke="#e03030" stroke-width="1.15" />
<line x1="473.00" y1="508.50" x2="480.00" y2="508.50" stroke="#e03030" stroke-width="1.15" />
<line x1="485.00" y1="508.50" x2="514.40" y2="508.50" stroke="#e03030" stroke-width="1.15" />
<line x1="205.50" y1="785.50" x2="383.60" y2="785.50" stroke="#e03030" stroke-width="1.15" />
<line x1="391.50" y1="785.50" x2="421.20" y2="785.50" stroke="#e03030" stroke-width="1.15" />
<line x1="426.50" y1="785.50" x2="433.00" y2="785.50" stroke="#e03030" stroke-width="1.15" />
<line x1="438.80" y1="785.50" x2="468.00" y2="785.50" stroke="#e03030" stroke-width="1.15" />
<line x1="473.00" y1="785.50" x2="480.00" y2="785.50" stroke="#e03030" stroke-width="1.15" />
<line x1="485.00" y1="785.50" x2="514.40" y2="785.50" stroke="#e03030" stroke-width="1.15" />
<rect x="230.00" y="522.40" width="32.20" height="23.40" fill="#ddd" stroke="#222" stroke-width="1.6" />
<rect x="230.00" y="747.30" width="32.20" height="25.30" fill="#ddd" stroke="#222" stroke-width="1.6" />
<rect x="262.20" y="536.40" width="35.80" height="9.40" fill="#1e1e1e" stroke="none" stroke-width="1" />
<ellipse cx="264.10" cy="539.22" rx="0.95" ry="1.88" fill="#fff"/>
<ellipse cx="265.85" cy="543.17" rx="0.95" ry="1.88" fill="#fff"/>
<ellipse cx="267.60" cy="539.22" rx="0.95" ry="1.88" fill="#fff"/>
<ellipse cx="269.35" cy="543.17" rx="0.95" ry="1.88" fill="#fff"/>
<ellipse cx="271.10" cy="539.22" rx="0.95" ry="1.88" fill="#fff"/>
<ellipse cx="272.85" cy="543.17" rx="0.95" ry="1.88" fill="#fff"/>
<ellipse cx="274.60" cy="539.22" rx="0.95" ry="1.88" fill="#fff"/>
<ellipse cx="276.35" cy="543.17" rx="0.95" ry="1.88" fill="#fff"/>
<ellipse cx="278.10" cy="539.22" rx="0.95" ry="1.88" fill="#fff"/>
<ellipse cx="279.85" cy="543.17" rx="0.95" ry="1.88" fill="#fff"/>
<ellipse cx="281.60" cy="539.22" rx="0.95" ry="1.88" fill="#fff"/>
<ellipse cx="283.35" cy="543.17" rx="0.95" ry="1.88" fill="#fff"/>
<ellipse cx="285.10" cy="539.22" rx="0.95" ry="1.88" fill="#fff"/>
<ellipse cx="286.85" cy="543.17" rx="0.95" ry="1.88" fill="#fff"/>
<ellipse cx="288.60" cy="539.22" rx="0.95" ry="1.88" fill="#fff"/>
<ellipse cx="290.35" cy="543.17" rx="0.95" ry="1.88" fill="#fff"/>
<ellipse cx="292.10" cy="539.22" rx="0.95" ry="1.88" fill="#fff"/>
<ellipse cx="293.85" cy="543.17" rx="0.95" ry="1.88" fill="#fff"/>
<ellipse cx="295.60" cy="539.22" rx="0.95" ry="1.88" fill="#fff"/>
<rect x="262.20" y="747.60" width="35.80" height="9.30" fill="#1e1e1e" stroke="none" stroke-width="1" />
<ellipse cx="264.10" cy="750.39" rx="0.95" ry="1.86" fill="#fff"/>
<ellipse cx="265.85" cy="754.30" rx="0.95" ry="1.86" fill="#fff"/>
<ellipse cx="267.60" cy="750.39" rx="0.95" ry="1.86" fill="#fff"/>
<ellipse cx="269.35" cy="754.30" rx="0.95" ry="1.86" fill="#fff"/>
<ellipse cx="271.10" cy="750.39" rx="0.95" ry="1.86" fill="#fff"/>
<ellipse cx="272.85" cy="754.30" rx="0.95" ry="1.86" fill="#fff"/>
<ellipse cx="274.60" cy="750.39" rx="0.95" ry="1.86" fill="#fff"/>
<ellipse cx="276.35" cy="754.30" rx="0.95" ry="1.86" fill="#fff"/>
<ellipse cx="278.10" cy="750.39" rx="0.95" ry="1.86" fill="#fff"/>
<ellipse cx="279.85" cy="754.30" rx="0.95" ry="1.86" fill="#fff"/>
<ellipse cx="281.60" cy="750.39" rx="0.95" ry="1.86" fill="#fff"/>
<ellipse cx="283.35" cy="754.30" rx="0.95" ry="1.86" fill="#fff"/>
<ellipse cx="285.10" cy="750.39" rx="0.95" ry="1.86" fill="#fff"/>
<ellipse cx="286.85" cy="754.30" rx="0.95" ry="1.86" fill="#fff"/>
<ellipse cx="288.60" cy="750.39" rx="0.95" ry="1.86" fill="#fff"/>
<ellipse cx="290.35" cy="754.30" rx="0.95" ry="1.86" fill="#fff"/>
<ellipse cx="292.10" cy="750.39" rx="0.95" ry="1.86" fill="#fff"/>
<ellipse cx="293.85" cy="754.30" rx="0.95" ry="1.86" fill="#fff"/>
<ellipse cx="295.60" cy="750.39" rx="0.95" ry="1.86" fill="#fff"/>
<line x1="229.00" y1="546.00" x2="298.00" y2="546.00" stroke="#222" stroke-width="1.6" />
<line x1="229.00" y1="747.50" x2="298.00" y2="747.50" stroke="#222" stroke-width="1.6" />
<rect x="240.30" y="549.70" width="4.80" height="92.30" fill="#fff" stroke="#333" stroke-width="1" />
<rect x="240.30" y="651.50" width="4.80" height="91.50" fill="#fff" stroke="#333" stroke-width="1" />
<line x1="244.50" y1="600.00" x2="244.50" y2="640.00" stroke="#666" stroke-width="1.6" />
<rect x="244.50" y="642.00" width="1.50" height="9.50" fill="#333" stroke="none" stroke-width="1" />
<rect x="245.00" y="645.40" width="51.40" height="3.20" fill="#333" stroke="none" stroke-width="1" />
<line x1="245.50" y1="546.00" x2="245.50" y2="549.70" stroke="#333" stroke-width="1" />
<line x1="245.50" y1="743.00" x2="245.50" y2="747.50" stroke="#333" stroke-width="1" />
<line x1="297.10" y1="536.00" x2="297.10" y2="758.50" stroke="#222" stroke-width="1.6" />
<line x1="328.20" y1="536.00" x2="328.20" y2="758.50" stroke="#555" stroke-width="1.3" />
<line x1="367.40" y1="536.00" x2="367.40" y2="758.50" stroke="#222" stroke-width="1.5" />
<line x1="365.50" y1="536.00" x2="365.50" y2="758.50" stroke="#555" stroke-width="1.0" stroke-dasharray="4 2.5"/>
<clipPath id="insc"><rect x="296.1" y="536.5" width="72.69999999999999" height="221.5"/></clipPath>
<path d="M299.1,511.80 L364.8,522.95 M364.8,519.35 L299.1,530.50 M299.1,511.80 Q295.6,513.60 299.1,515.40 M364.8,519.35 Q368.3,521.15 364.8,522.95 M364.8,522.95 Q368.8,528.70 364.8,534.45 M299.1,515.40 Q295.1,521.15 299.1,526.90 M299.1,526.90 L364.8,538.05 M364.8,534.45 L299.1,545.60 M299.1,526.90 Q295.6,528.70 299.1,530.50 M364.8,534.45 Q368.3,536.25 364.8,538.05 M364.8,538.05 Q368.8,543.80 364.8,549.55 M299.1,530.50 Q295.1,536.25 299.1,542.00 M299.1,542.00 L364.8,553.15 M364.8,549.55 L299.1,560.70 M299.1,542.00 Q295.6,543.80 299.1,545.60 M364.8,549.55 Q368.3,551.35 364.8,553.15 M364.8,553.15 Q368.8,558.90 364.8,564.65 M299.1,545.60 Q295.1,551.35 299.1,557.10 M299.1,557.10 L364.8,568.25 M364.8,564.65 L299.1,575.80 M299.1,557.10 Q295.6,558.90 299.1,560.70 M364.8,564.65 Q368.3,566.45 364.8,568.25 M364.8,568.25 Q368.8,574.00 364.8,579.75 M299.1,560.70 Q295.1,566.45 299.1,572.20 M299.1,572.20 L364.8,583.35 M364.8,579.75 L299.1,590.90 M299.1,572.20 Q295.6,574.00 299.1,575.80 M364.8,579.75 Q368.3,581.55 364.8,583.35 M364.8,583.35 Q368.8,589.10 364.8,594.85 M299.1,575.80 Q295.1,581.55 299.1,587.30 M299.1,587.30 L364.8,598.45 M364.8,594.85 L299.1,606.00 M299.1,587.30 Q295.6,589.10 299.1,590.90 M364.8,594.85 Q368.3,596.65 364.8,598.45 M364.8,598.45 Q368.8,604.20 364.8,609.95 M299.1,590.90 Q295.1,596.65 299.1,602.40 M299.1,602.40 L364.8,613.55 M364.8,609.95 L299.1,621.10 M299.1,602.40 Q295.6,604.20 299.1,606.00 M364.8,609.95 Q368.3,611.75 364.8,613.55 M364.8,613.55 Q368.8,619.30 364.8,625.05 M299.1,606.00 Q295.1,611.75 299.1,617.50 M299.1,617.50 L364.8,628.65 M364.8,625.05 L299.1,636.20 M299.1,617.50 Q295.6,619.30 299.1,621.10 M364.8,625.05 Q368.3,626.85 364.8,628.65 M364.8,628.65 Q368.8,634.40 364.8,640.15 M299.1,621.10 Q295.1,626.85 299.1,632.60 M299.1,632.60 L364.8,643.75 M364.8,640.15 L299.1,651.30 M299.1,632.60 Q295.6,634.40 299.1,636.20 M364.8,640.15 Q368.3,641.95 364.8,643.75 M364.8,643.75 Q368.8,649.50 364.8,655.25 M299.1,636.20 Q295.1,641.95 299.1,647.70 M299.1,647.70 L364.8,658.85 M364.8,655.25 L299.1,666.40 M299.1,647.70 Q295.6,649.50 299.1,651.30 M364.8,655.25 Q368.3,657.05 364.8,658.85 M364.8,658.85 Q368.8,664.60 364.8,670.35 M299.1,651.30 Q295.1,657.05 299.1,662.80 M299.1,662.80 L364.8,673.95 M364.8,670.35 L299.1,681.50 M299.1,662.80 Q295.6,664.60 299.1,666.40 M364.8,670.35 Q368.3,672.15 364.8,673.95 M364.8,673.95 Q368.8,679.70 364.8,685.45 M299.1,666.40 Q295.1,672.15 299.1,677.90 M299.1,677.90 L364.8,689.05 M364.8,685.45 L299.1,696.60 M299.1,677.90 Q295.6,679.70 299.1,681.50 M364.8,685.45 Q368.3,687.25 364.8,689.05 M364.8,689.05 Q368.8,694.80 364.8,700.55 M299.1,681.50 Q295.1,687.25 299.1,693.00 M299.1,693.00 L364.8,704.15 M364.8,700.55 L299.1,711.70 M299.1,693.00 Q295.6,694.80 299.1,696.60 M364.8,700.55 Q368.3,702.35 364.8,704.15 M364.8,704.15 Q368.8,709.90 364.8,715.65 M299.1,696.60 Q295.1,702.35 299.1,708.10 M299.1,708.10 L364.8,719.25 M364.8,715.65 L299.1,726.80 M299.1,708.10 Q295.6,709.90 299.1,711.70 M364.8,715.65 Q368.3,717.45 364.8,719.25 M364.8,719.25 Q368.8,725.00 364.8,730.75 M299.1,711.70 Q295.1,717.45 299.1,723.20 M299.1,723.20 L364.8,734.35 M364.8,730.75 L299.1,741.90 M299.1,723.20 Q295.6,725.00 299.1,726.80 M364.8,730.75 Q368.3,732.55 364.8,734.35 M364.8,734.35 Q368.8,740.10 364.8,745.85 M299.1,726.80 Q295.1,732.55 299.1,738.30 M299.1,738.30 L364.8,749.45 M364.8,745.85 L299.1,757.00 M299.1,738.30 Q295.6,740.10 299.1,741.90 M364.8,745.85 Q368.3,747.65 364.8,749.45 M364.8,749.45 Q368.8,755.20 364.8,760.95 M299.1,741.90 Q295.1,747.65 299.1,753.40 M299.1,753.40 L364.8,764.55 M364.8,760.95 L299.1,772.10 M299.1,753.40 Q295.6,755.20 299.1,757.00 M364.8,760.95 Q368.3,762.75 364.8,764.55 M364.8,764.55 Q368.8,770.30 364.8,776.05 M299.1,757.00 Q295.1,762.75 299.1,768.50" stroke="#111" stroke-width="1.1" fill="none" clip-path="url(#insc)"/>
<line x1="297.00" y1="550.50" x2="339.50" y2="550.50" stroke="#555" stroke-width="1.3" stroke-dasharray="4.5 2.5"/>
<line x1="325.40" y1="541.70" x2="332.50" y2="549.60" stroke="#333" stroke-width="1" />
<line x1="306.00" y1="742.30" x2="366.00" y2="742.30" stroke="#555" stroke-width="1.3" stroke-dasharray="4.5 2.5"/>
<line x1="305.00" y1="748.50" x2="329.00" y2="748.50" stroke="#333" stroke-width="1" />
<line x1="324.50" y1="744.00" x2="332.50" y2="752.90" stroke="#333" stroke-width="1" />
<rect x="385.30" y="537.00" width="4.70" height="220.50" fill="#e6e6e6" stroke="none" stroke-width="1" />
<line x1="385.30" y1="537.00" x2="385.30" y2="757.50" stroke="#333" stroke-width="1.5" />
<line x1="390.50" y1="537.00" x2="390.50" y2="757.50" stroke="#666" stroke-width="1.2" />
<line x1="374.70" y1="537.00" x2="385.30" y2="537.00" stroke="#222" stroke-width="1.6" />
<line x1="374.70" y1="757.30" x2="385.30" y2="757.30" stroke="#222" stroke-width="1.6" />
<line x1="384.00" y1="537.00" x2="384.00" y2="548.00" stroke="#222" stroke-width="1.4" />
<line x1="384.00" y1="746.00" x2="384.00" y2="757.00" stroke="#222" stroke-width="1.4" />
<rect x="397.00" y="610.00" width="14.00" height="74.50" fill="none" stroke="#444" stroke-width="0.9" />
<text x="406.80" y="635.00" font-size="10.05" text-anchor="middle" font-weight="normal" fill="#111" stroke="#111" stroke-width="0.3" transform="rotate(-90 406.80 635.00)">Lueftungsklappe mit Schlitzschieber Sommer/Winter</text>
<rect x="213.10" y="537.00" width="2.60" height="222.00" fill="#aaa" stroke="#333" stroke-width="0.8" />
<rect x="212.60" y="545.50" width="9.40" height="54.80" fill="#fff" stroke="#666" stroke-width="1.2" />
<line x1="194.00" y1="572.50" x2="226.80" y2="572.50" stroke="#666" stroke-width="1.2" />
<rect x="209.50" y="543.50" width="3.00" height="33.00" fill="#fff" stroke="#333" stroke-width="0.9" />
<path d="M209.5,543.8 C204,550.8 201,562.8 201.2,570.8 C201.4,577.8 202,580.3 202.8,580.3 C205,580.3 206.5,574.8 207.5,569.8 C208,567.8 209,566.8 209.5,567.3" stroke="#111" stroke-width="1.2" fill="none" />
<path d="M214,572.3 C214.5,566.8 215.5,565.3 216.3,565.3 C218,565.3 218.6,572.8 218.4,577.8 C218,587.8 213,597.8 210.3,601.8 C209,592.8 208.4,584.8 208.5,580.8 C208.6,575.8 209,576.3 209.5,576.3" stroke="#111" stroke-width="1.2" fill="none" />
<rect x="212.60" y="619.50" width="9.40" height="54.80" fill="#fff" stroke="#666" stroke-width="1.2" />
<line x1="194.00" y1="646.50" x2="226.80" y2="646.50" stroke="#666" stroke-width="1.2" />
<rect x="209.50" y="617.50" width="3.00" height="33.00" fill="#fff" stroke="#333" stroke-width="0.9" />
<path d="M209.5,617.8 C204,624.8 201,636.8 201.2,644.8 C201.4,651.8 202,654.3 202.8,654.3 C205,654.3 206.5,648.8 207.5,643.8 C208,641.8 209,640.8 209.5,641.3" stroke="#111" stroke-width="1.2" fill="none" />
<path d="M214,646.3 C214.5,640.8 215.5,639.3 216.3,639.3 C218,639.3 218.6,646.8 218.4,651.8 C218,661.8 213,671.8 210.3,675.8 C209,666.8 208.4,658.8 208.5,654.8 C208.6,649.8 209,650.3 209.5,650.3" stroke="#111" stroke-width="1.2" fill="none" />
<rect x="212.60" y="693.30" width="9.40" height="54.80" fill="#fff" stroke="#666" stroke-width="1.2" />
<line x1="194.00" y1="720.50" x2="226.80" y2="720.50" stroke="#666" stroke-width="1.2" />
<rect x="209.50" y="691.30" width="3.00" height="33.00" fill="#fff" stroke="#333" stroke-width="0.9" />
<path d="M209.5,691.6 C204,698.6 201,710.6 201.2,718.6 C201.4,725.6 202,728.1 202.8,728.1 C205,728.1 206.5,722.6 207.5,717.6 C208,715.6 209,714.6 209.5,715.1" stroke="#111" stroke-width="1.2" fill="none" />
<path d="M214,720.1 C214.5,714.6 215.5,713.1 216.3,713.1 C218,713.1 218.6,720.6 218.4,725.6 C218,735.6 213,745.6 210.3,749.6 C209,740.6 208.4,732.6 208.5,728.6 C208.6,723.6 209,724.1 209.5,724.1" stroke="#111" stroke-width="1.2" fill="none" />
<line x1="155.50" y1="481.20" x2="155.50" y2="813.30" stroke="#4a4a4a" stroke-width="1.25" />
<line x1="145.50" y1="481.50" x2="178.50" y2="481.50" stroke="#2a2a2a" stroke-width="1.05" />
<line x1="150.20" y1="476.60" x2="159.80" y2="486.00" stroke="#222" stroke-width="1.1" />
<line x1="145.50" y1="508.50" x2="178.50" y2="508.50" stroke="#2a2a2a" stroke-width="1.05" />
<line x1="150.20" y1="503.60" x2="159.80" y2="513.00" stroke="#222" stroke-width="1.1" />
<line x1="145.50" y1="572.50" x2="178.50" y2="572.50" stroke="#2a2a2a" stroke-width="1.05" />
<line x1="150.20" y1="568.10" x2="159.80" y2="577.50" stroke="#222" stroke-width="1.1" />
<line x1="145.50" y1="647.50" x2="178.50" y2="647.50" stroke="#2a2a2a" stroke-width="1.05" />
<line x1="150.20" y1="642.50" x2="159.80" y2="651.90" stroke="#222" stroke-width="1.1" />
<line x1="145.50" y1="720.50" x2="178.50" y2="720.50" stroke="#2a2a2a" stroke-width="1.05" />
<line x1="150.20" y1="716.10" x2="159.80" y2="725.50" stroke="#222" stroke-width="1.1" />
<line x1="145.50" y1="785.50" x2="178.50" y2="785.50" stroke="#2a2a2a" stroke-width="1.05" />
<line x1="150.20" y1="780.50" x2="159.80" y2="789.90" stroke="#222" stroke-width="1.1" />
<line x1="145.50" y1="813.50" x2="178.50" y2="813.50" stroke="#2a2a2a" stroke-width="1.05" />
<line x1="150.20" y1="808.70" x2="159.80" y2="818.10" stroke="#222" stroke-width="1.1" />
<text x="141.80" y="492.50" font-size="16" text-anchor="middle" font-weight="normal" fill="#111" stroke="#111" stroke-width="0.3" transform="rotate(-90 141.80 492.50)">3</text>
<text x="141.80" y="543.50" font-size="16" text-anchor="middle" font-weight="normal" fill="#111" stroke="#111" stroke-width="0.3" transform="rotate(-90 141.80 543.50)">7</text>
<text x="141.80" y="602.20" font-size="16" text-anchor="middle" font-weight="normal" fill="#111" stroke="#111" stroke-width="0.3" transform="rotate(-90 141.80 602.20)">8</text>
<text x="141.80" y="680.50" font-size="16" text-anchor="middle" font-weight="normal" fill="#111" stroke="#111" stroke-width="0.3" transform="rotate(-90 141.80 680.50)">8</text>
<text x="141.80" y="751.00" font-size="16" text-anchor="middle" font-weight="normal" fill="#111" stroke="#111" stroke-width="0.3" transform="rotate(-90 141.80 751.00)">7</text>
<text x="141.80" y="800.00" font-size="16" text-anchor="middle" font-weight="normal" fill="#111" stroke="#111" stroke-width="0.3" transform="rotate(-90 141.80 800.00)">3</text>
<line x1="213.00" y1="618.50" x2="393.30" y2="618.50" stroke="#222" stroke-width="1.1" />
<line x1="210.40" y1="623.10" x2="219.60" y2="613.90" stroke="#222" stroke-width="1.1" />
<line x1="239.40" y1="623.10" x2="248.60" y2="613.90" stroke="#222" stroke-width="1.1" />
<line x1="291.90" y1="623.10" x2="301.10" y2="613.90" stroke="#222" stroke-width="1.1" />
<line x1="361.40" y1="623.10" x2="370.60" y2="613.90" stroke="#222" stroke-width="1.1" />
<line x1="380.90" y1="623.10" x2="390.10" y2="613.90" stroke="#222" stroke-width="1.1" />
<text x="220.00" y="613.30" font-size="14" text-anchor="start" font-weight="normal" fill="#111" stroke="#111" stroke-width="0.3">3,0</text>
<text x="260.50" y="613.30" font-size="14" text-anchor="start" font-weight="normal" fill="#111" stroke="#111" stroke-width="0.3">5,8</text>
<text x="367.00" y="614.00" font-size="14" text-anchor="start" font-weight="normal" fill="#111" stroke="#111" stroke-width="0.3">2,0</text>
<rect x="301.50" y="596.00" width="15.00" height="18.00" fill="#fff" stroke="none" stroke-width="1" />
<rect x="301.50" y="683.00" width="15.00" height="18.00" fill="#fff" stroke="none" stroke-width="1" />
<rect x="318.50" y="601.00" width="25.00" height="13.00" fill="#fff" stroke="none" stroke-width="1" />
<text x="323.00" y="613.50" font-size="14.4" text-anchor="start" font-weight="normal" fill="#111" stroke="#111" stroke-width="0.3">7,6</text>
<path d="M314.4,600.5 L303.2,600.5 L306.5,604.0" stroke="#111" stroke-width="1.4" fill="none" />
<path d="M314.4,609.7 L303.2,609.7 L306.5,613.2" stroke="#111" stroke-width="1.4" fill="none" />
<path d="M314.4,687.4 L303.2,687.4 L306.5,690.9" stroke="#111" stroke-width="1.4" fill="none" />
<path d="M314.4,696.6 L303.2,696.6 L306.5,700.1" stroke="#111" stroke-width="1.4" fill="none" />
<line x1="319.50" y1="603.50" x2="322.30" y2="603.50" stroke="#111" stroke-width="1.1" />
<line x1="297.00" y1="641.50" x2="345.20" y2="641.50" stroke="#444" stroke-width="1.2" stroke-dasharray="4.5 2.5"/>
<line x1="300.00" y1="652.50" x2="364.00" y2="652.50" stroke="#444" stroke-width="1.2" stroke-dasharray="4.5 2.5"/>
<line x1="303.80" y1="646.50" x2="337.70" y2="646.50" stroke="#888" stroke-width="2" />
<line x1="323.60" y1="641.60" x2="332.00" y2="651.60" stroke="#222" stroke-width="1" />
<path d="M489,809.2 L508,826.8 L489,845 Z" stroke="#000" stroke-width="0.5" fill="#000" />
<line x1="220.60" y1="873.50" x2="516.50" y2="873.50" stroke="#222" stroke-width="1.1" />
<line x1="230.50" y1="852.70" x2="230.50" y2="883.00" stroke="#2a2a2a" stroke-width="1.1" />
<line x1="507.50" y1="850.00" x2="507.50" y2="882.00" stroke="#2a2a2a" stroke-width="1.1" />
<line x1="225.50" y1="878.30" x2="234.70" y2="869.10" stroke="#222" stroke-width="1.1" />
<line x1="502.70" y1="878.30" x2="511.90" y2="869.10" stroke="#222" stroke-width="1.1" />
<text x="369.00" y="865.30" font-size="16" text-anchor="start" font-weight="normal" fill="#111" stroke="#111" stroke-width="0.3">30</text>
<line x1="189.60" y1="453.30" x2="205.40" y2="550.00" stroke="#111" stroke-width="1.1" />
<line x1="160.00" y1="857.50" x2="240.00" y2="722.00" stroke="#111" stroke-width="1.2" />
<line x1="262.80" y1="852.70" x2="262.80" y2="905.00" stroke="#333" stroke-width="1.3" />
<line x1="262.50" y1="719.70" x2="262.50" y2="747.30" stroke="#777" stroke-width="1.2" />
<line x1="334.30" y1="727.60" x2="363.00" y2="893.00" stroke="#111" stroke-width="1.1" />
</svg></body></html>
